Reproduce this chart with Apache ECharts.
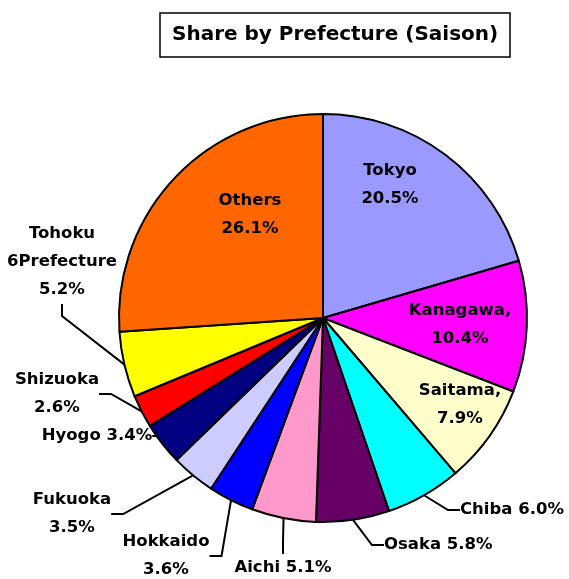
<!DOCTYPE html>
<html>
<head>
<meta charset="utf-8">
<script src="https://cdn.jsdelivr.net/npm/echarts@6/dist/echarts.min.js"></script>
<style>
  html, body { margin: 0; padding: 0; background: #fff; }
  #main { width: 569px; height: 579px; }
</style>
</head>
<body>
<div id="main"></div>
<script>
// prefectures, clockwise from 12 o'clock
var names = ['Tokyo', 'Kanagawa,', 'Saitama,', 'Chiba', 'Osaka', 'Aichi', 'Hokkaido', 'Fukuoka', 'Hyogo', 'Shizuoka', 'Tohoku\n6Prefecture', 'Others'];
var shares = [20.5, 10.4, 7.9, 6.0, 5.8, 5.1, 3.6, 3.5, 3.4, 2.6, 5.2, 26.1];
var colors = ['#9999ff', '#ff00ff', '#ffffcc', '#00ffff', '#660066', '#ff99cc', '#0000ff', '#ccccff', '#000080', '#ff0000', '#ffff00', '#ff6600'];

(function () {
  var myChart = echarts.init(document.getElementById('main'));

  // labels drawn inside the pie (no leader line)
  var insideIdx = [0, 1, 2, 11];
  // labels with value on same line as name
  var oneLine = [3, 4, 5, 8];

  // where each label sits (like the hand-placed Excel labels)
  var labelPos = [
    { x: 390, y: 185, align: 'center' },
    { x: 460, y: 325, align: 'center' },
    { x: 460, y: 405, align: 'center' },
    { x: 460, y: 510, align: 'left' },
    { x: 384, y: 545, align: 'left' },
    { x: 283, y: 568, align: 'center' },
    { x: 166, y: 556, align: 'center' },
    { x: 72, y: 514, align: 'center' },
    { x: 97, y: 436, align: 'center' },
    { x: 57, y: 394, align: 'center' },
    { x: 62, y: 262, align: 'center' },
    { x: 250, y: 215, align: 'center' }
  ];

  var data = names.map(function (n, i) {
    return {
      name: n,
      value: shares[i],
      itemStyle: { color: colors[i] },
      labelLine: { show: insideIdx.indexOf(i) < 0 }
    };
  });

  var option = {
    animation: false,
    title: {
      text: 'Share by Prefecture (Saison)',
      left: 160,
      top: 13,
      padding: [12, 12, 12, 12],
      borderColor: '#000',
      borderWidth: 1.5,
      textStyle: {
        fontFamily: 'DejaVu Sans',
        fontSize: 20,
        fontWeight: 'bold',
        color: '#000'
      }
    },
    series: [
      {
        type: 'pie',
        center: [323, 318],
        radius: 204,
        startAngle: 90,
        clockwise: true,
        avoidLabelOverlap: false,
        itemStyle: { borderColor: '#000', borderWidth: 2 },
        emphasis: { disabled: true },
        label: {
          show: true,
          position: 'outside',
          color: '#000',
          fontFamily: 'DejaVu Sans',
          fontSize: 16.5,
          fontWeight: 'bold',
          lineHeight: 28,
          formatter: function (p) {
            var v = p.value.toFixed(1) + '%';
            return oneLine.indexOf(p.dataIndex) >= 0 ? p.name + ' ' + v : p.name + '\n' + v;
          }
        },
        labelLine: {
          show: true,
          length: 10,
          length2: 12,
          lineStyle: { color: '#000', width: 2 }
        },
        labelLayout: function (p) {
          var lp = labelPos[p.dataIndex];
          return { x: lp.x, y: lp.y, align: lp.align, verticalAlign: 'middle' };
        },
        data: data
      }
    ]
  };
  myChart.setOption(option);
})();
</script>
</body>
</html>
